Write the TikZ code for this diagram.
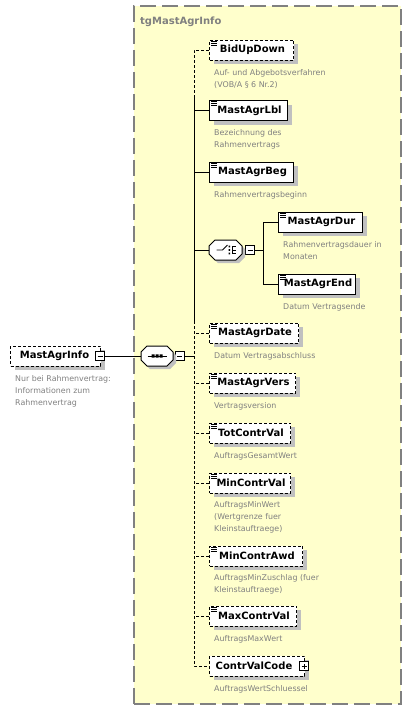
\documentclass[tikz,border=0pt]{standalone}
\usepackage{fontspec}
\setmainfont{DejaVu Sans}
\usetikzlibrary{shadows}
\definecolor{grpfill}{RGB}{255,255,204}
\definecolor{grpline}{RGB}{128,128,128}
\definecolor{shadowgrey}{RGB}{192,192,192}
\definecolor{descgrey}{RGB}{128,128,128}
\newcommand\xnamefont{\fontsize{10}{12}\selectfont\bfseries}
\newcommand\xdescfont{\fontsize{7.9}{12}\selectfont}
\newcommand\xtitlefont{\fontsize{10}{12}\selectfont\bfseries}
\newcommand\simpleicon[1]{%
  \draw[line width=0.7pt] ([shift={(2,1.4)}]#1.north west) -- ++(5.5,0)
    ([shift={(2,3.6)}]#1.north west) -- ++(5.5,0)
    ([shift={(2,5.8)}]#1.north west) -- ++(5.5,0);}
\begin{document}
\begin{tikzpicture}[x=1pt,y=-1pt,
  elem/.style={draw=black, fill=white, line width=1pt, minimum height=20pt,
    inner sep=0pt, anchor=west, font=\xnamefont,
    general shadow={fill=shadowgrey, shadow xshift=4pt, shadow yshift=-4pt}},
  optelem/.style={elem, dash pattern=on 3pt off 2pt},
  desc/.style={text=descgrey, font=\xdescfont, align=left, anchor=north west, inner sep=0pt},
  sline/.style={line width=1pt},
  dline/.style={line width=1pt, dash pattern=on 3pt off 2pt},
  tog/.style={draw=black, fill=white, line width=0.8pt, minimum size=9pt, inner sep=0pt},
  symb/.style={inner sep=0pt, minimum height=20pt},
  grpbox/.style={draw=grpline, fill=grpfill, line width=1.5pt, dash pattern=on 16pt off 6pt,
    inner sep=0pt, anchor=north west, minimum width=267pt, minimum height=698pt},
]
\useasboundingbox (0,0) rectangle (411,712);

% group box
\node[grpbox] (grp) at (133,5) {};
\node[anchor=base west, inner sep=0pt, text=grpline, font=\xtitlefont] (title) at (140,24) {tgMastAgrInfo};

% root element
\node[optelem, minimum width=90pt] (root) at (10,356) {MastAgrInfo\hspace*{2pt}};
\node[tog] (im) at (100,356) {};
\draw[line width=0.8pt] ([xshift=-2.5pt]im.center) -- ([xshift=2.5pt]im.center);
\node[desc] (droot) at (15,375) {Nur bei Rahmenvertrag:\\Informationen zum\\Rahmenvertrag};

% sequence symbol
\node[symb, minimum width=32pt] (seq) at (157,356) {};
\node[tog] (sm) at (179.5,356) {};
% choice symbol
\node[symb, minimum width=33pt] (cho) at (225.5,250) {};
\node[tog] (cm) at (250,250) {};

% children
\node[optelem, minimum width=84pt] (bid) at (209,50) {\hspace*{2pt}BidUpDown};
\node[elem, minimum width=78pt] (lbl) at (209,110.5) {\hspace*{2pt}MastAgrLbl};
\node[elem, minimum width=84pt] (beg) at (209,172) {\hspace*{2pt}MastAgrBeg};
\node[elem, minimum width=84pt] (dur) at (278,222) {\hspace*{2pt}MastAgrDur};
\node[elem, minimum width=77pt] (end) at (278,284) {\hspace*{2pt}MastAgrEnd};
\node[optelem, minimum width=89pt] (date) at (209,333) {\hspace*{2pt}MastAgrDate};
\node[optelem, minimum width=86pt] (vers) at (209,383) {\hspace*{2pt}MastAgrVers};
\node[optelem, minimum width=81pt] (tot) at (209,433) {\hspace*{2pt}TotContrVal};
\node[optelem, minimum width=81pt] (minv) at (209,483) {\hspace*{2pt}MinContrVal};
\node[optelem, minimum width=93pt] (mina) at (209,556) {\hspace*{2pt}MinContrAwd};
\node[optelem, minimum width=87pt] (maxv) at (209,616) {\hspace*{2pt}MaxContrVal};
\node[optelem, minimum width=95pt] (code) at (209,666) {ContrValCode\hspace*{6pt}};
\node[tog] (cp) at (304,666) {};
\draw[line width=0.8pt] ([xshift=-2.5pt]cp.center) -- ([xshift=2.5pt]cp.center)
  ([yshift=-2.5pt]cp.center) -- ([yshift=2.5pt]cp.center);

\foreach \n in {bid,lbl,beg,dur,end,date,vers,tot,minv,mina,maxv} {\simpleicon{\n}}

% descriptions
\node[desc] (dbid) at (214,69) {Auf- und Abgebotsverfahren\\(VOB/A § 6 Nr.2)};
\node[desc] (dlbl) at (214,129.5) {Bezeichnung des\\Rahmenvertrags};
\node[desc] (dbeg) at (214,191) {Rahmenvertragsbeginn};
\node[desc] (ddur) at (283,241) {Rahmenvertragsdauer in\\Monaten};
\node[desc] (dend) at (283,303) {Datum Vertragsende};
\node[desc] (ddate) at (214,352) {Datum Vertragsabschluss};
\node[desc] (dvers) at (214,402) {Vertragsversion};
\node[desc] (dtot) at (214,452) {AuftragsGesamtWert};
\node[desc] (dminv) at (214,501) {AuftragsMinWert\\(Wertgrenze fuer\\Kleinstauftraege)};
\node[desc] (dmina) at (214,574) {AuftragsMinZuschlag (fuer\\Kleinstauftraege)};
\node[desc] (dmaxv) at (214,635) {AuftragsMaxWert};
\node[desc] (dcode) at (214,685) {AuftragsWertSchluessel};

% connectors
\coordinate (vx) at (194,0);
\coordinate (cx) at (263,0);
\coordinate (vs1) at (194,98);
\coordinate (vs2) at (194,321);
\draw[sline] (im.east) -- (seq.west);
\draw[sline] (seq.east) -- (sm.west);
\draw[sline] (sm.east) -- (sm.east -| vx);
\draw[dline] (bid.west) -- (bid.west -| vx) -- (vs1);
\draw[sline] (vs1) -- (vs2);
\draw[dline] (vs2) -- (code.west -| vx) -- (code.west);
\draw[sline] (lbl.west) -- (lbl.west -| vx);
\draw[sline] (beg.west) -- (beg.west -| vx);
\draw[sline] (cho.west) -- (cho.west -| vx);
\draw[dline] (date.west) -- (date.west -| vx);
\draw[dline] (vers.west) -- (vers.west -| vx);
\draw[dline] (tot.west) -- (tot.west -| vx);
\draw[dline] (minv.west) -- (minv.west -| vx);
\draw[dline] (mina.west) -- (mina.west -| vx);
\draw[dline] (maxv.west) -- (maxv.west -| vx);
\draw[sline] (cho.east) -- (cm.west);
\draw[sline] (cm.east) -- (cm.east -| cx);
\draw[sline] (dur.west) -- (dur.west -| cx) -- (end.west -| cx) -- (end.west);

% sequence octagon
\fill[shadowgrey, shift={(seq.center)}, shift={(3,3)}]
  (-16,-4) -- (-10,-10) -- (10,-10) -- (16,-4) -- (16,4) -- (10,10) -- (-10,10) -- (-16,4) -- cycle;
\draw[line width=1pt, fill=white, shift={(seq.center)}]
  (-16,-4) -- (-10,-10) -- (10,-10) -- (16,-4) -- (16,4) -- (10,10) -- (-10,10) -- (-16,4) -- cycle;
\draw[line width=0.9pt, shift={(seq.center)}] (-9.5,0) -- (9.5,0);
\fill[shift={(seq.center)}] (-5.5,-1.6) rectangle (-2.5,1.6) (-1.5,-1.6) rectangle (1.5,1.6) (2.5,-1.6) rectangle (5.5,1.6);
\draw[line width=0.8pt] ([xshift=-2.5pt]sm.center) -- ([xshift=2.5pt]sm.center);

% choice octagon
\fill[shadowgrey, shift={(cho.center)}, shift={(3,3)}]
  (-16.5,-4) -- (-10.5,-10) -- (10.5,-10) -- (16.5,-4) -- (16.5,4) -- (10.5,10) -- (-10.5,10) -- (-16.5,4) -- cycle;
\draw[line width=1pt, fill=white, shift={(cho.center)}]
  (-16.5,-4) -- (-10.5,-10) -- (10.5,-10) -- (16.5,-4) -- (16.5,4) -- (10.5,10) -- (-10.5,10) -- (-16.5,4) -- cycle;
\draw[line width=0.9pt, shift={(cho.center)}] (-9,0) -- (-3,0) -- (2,-5);
\fill[shift={(cho.center)}] (3,-4.3) rectangle (4.6,-2.7) (3,-0.8) rectangle (4.6,0.8) (3,2.7) rectangle (4.6,4.3);
\draw[line width=0.9pt, shift={(cho.center)}] (6.5,-3.5) -- (6.5,3.5) (6.5,-3.5) -- (10,-3.5) (6.5,0) -- (10,0) (6.5,3.5) -- (10,3.5);
\draw[line width=0.8pt] ([xshift=-2.5pt]cm.center) -- ([xshift=2.5pt]cm.center);
\end{tikzpicture}
\end{document}
